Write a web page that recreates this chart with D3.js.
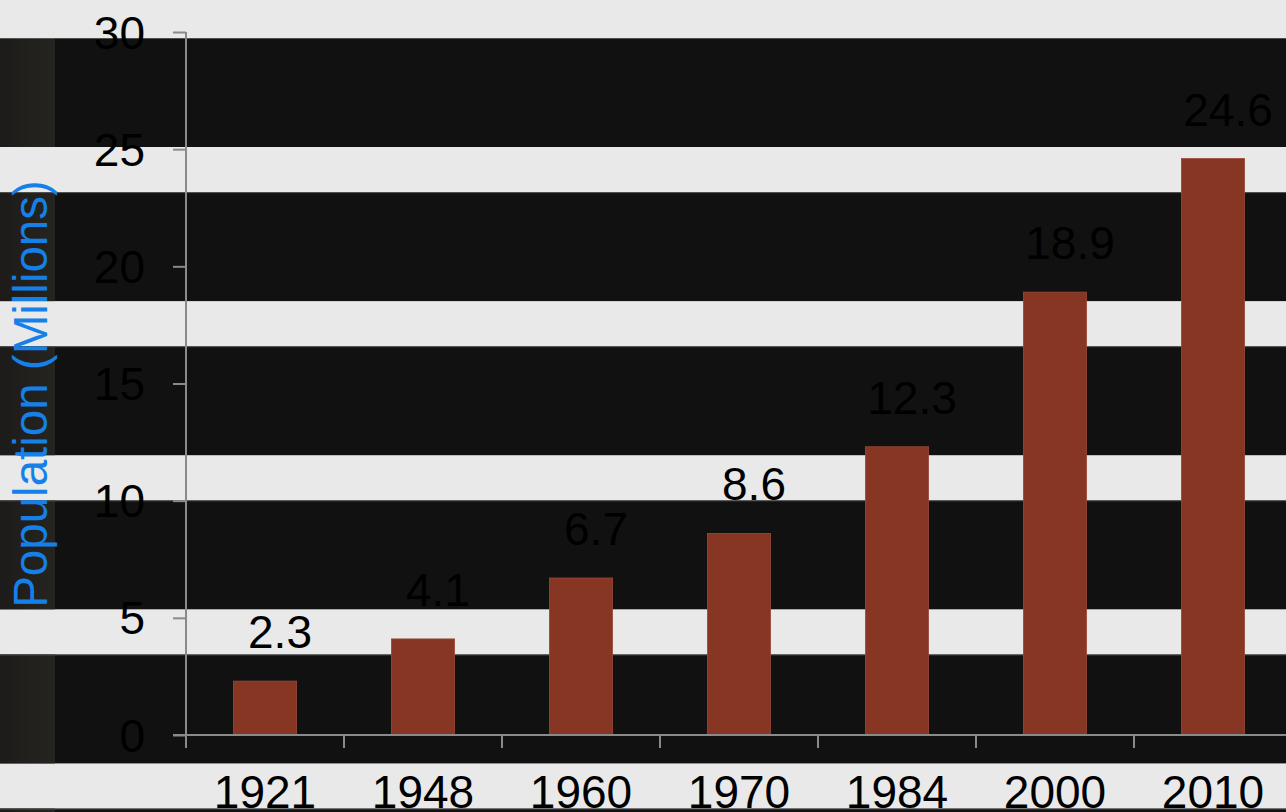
<!DOCTYPE html>
<html><head><meta charset="utf-8">
<script src="https://cdn.jsdelivr.net/npm/d3@7"></script>
<style>html,body{margin:0;padding:0;background:#e9e9e9;overflow:hidden}svg{display:block}</style>
</head><body>
<script>
const categories = ["1921","1948","1960","1970","1984","2000","2010"];
const values = [2.3, 4.1, 6.7, 8.6, 12.3, 18.9, 24.6];
const yTicks = [0,5,10,15,20,25,30];
const yTitle = "Population (Millions)";

const W = 1286, H = 812;
const svg = d3.select("body").append("svg").attr("width", W).attr("height", H);

// background: light with dark horizontal stripes
svg.append("rect").attr("width", W).attr("height", H).attr("fill", "#e9e9e9");
const defs = svg.append("defs");
const g1 = defs.append("linearGradient").attr("id","strip").attr("x1","0").attr("x2","1");
g1.append("stop").attr("offset","0").attr("stop-color","#1c1b19");
g1.append("stop").attr("offset","0.6").attr("stop-color","#22211e");
g1.append("stop").attr("offset","1").attr("stop-color","#252420");
const stripeTops = d3.range(6).map(i => 38 + i * 154.1);
stripeTops.forEach(t => {
  svg.append("rect").attr("x",0).attr("y",t).attr("width",W).attr("height",109).attr("fill","#111111");
  svg.append("rect").attr("x",0).attr("y",t).attr("width",55).attr("height",109).attr("fill","url(#strip)");
  svg.append("line").attr("x1",0).attr("x2",W).attr("y1",t+0.5).attr("y2",t+0.5)
    .attr("stroke","#6a6a6a").attr("stroke-width",1).attr("opacity",0.7);
});

const x0 = 186, y0 = 735, yTop = 32;
const x = d3.scaleBand().domain(categories).range([x0, x0 + 158 * categories.length]).paddingInner(0.6).paddingOuter(0.3);
const xEdges = d3.scaleBand().domain(categories).range([x0, x0 + 158 * categories.length]);
const y = d3.scaleLinear().domain([0, 30]).range([y0, yTop]);

const font = "'Liberation Sans', Arial, sans-serif";

// bars
svg.append("g").selectAll("rect").data(values).join("rect")
  .attr("x", (d,i) => x(categories[i]))
  .attr("y", d => y(d))
  .attr("width", x.bandwidth())
  .attr("height", d => y0 - y(d))
  .attr("fill", "#873624")
  .attr("stroke", "#9a4a36").attr("stroke-width", 0.8);

// y axis
const yAxis = svg.append("g").attr("transform", `translate(${x0},0)`)
  .call(d3.axisLeft(y).tickValues(yTicks).tickSize(13).tickPadding(28).tickSizeOuter(0));
yAxis.select(".domain").attr("stroke", "#8a8a8a").attr("stroke-width", 2)
  .attr("d", `M0,${yTop}V${y0+13}`);
yAxis.selectAll(".tick line").attr("stroke", "#8a8a8a").attr("stroke-width", 2);
yAxis.selectAll(".tick text").attr("font-family", font).attr("font-size", 46).attr("fill", "#000").attr("dy", "0.35em");

// x axis
const xAxis = svg.append("g").attr("transform", `translate(0,${y0})`);
xAxis.append("line").attr("x1", x0 - 13).attr("x2", W).attr("y1", 0).attr("y2", 0)
  .attr("stroke", "#8a8a8a").attr("stroke-width", 2);
xAxis.selectAll("line.tk").data(categories).join("line").attr("class","tk")
  .attr("x1", d => xEdges(d)).attr("x2", d => xEdges(d)).attr("y1", 0).attr("y2", 13)
  .attr("stroke", "#8a8a8a").attr("stroke-width", 2);
xAxis.selectAll("text").data(categories).join("text")
  .attr("x", d => xEdges(d) + xEdges.bandwidth()/2).attr("y", 73)
  .attr("text-anchor", "middle").attr("font-family", font).attr("font-size", 46).attr("fill", "#000")
  .text(d => d);

// data labels
svg.append("g").selectAll("text").data(values).join("text")
  .attr("x", (d,i) => x(categories[i]) + x.bandwidth()/2 + 15)
  .attr("y", d => y(d) - 33)
  .attr("text-anchor", "middle").attr("font-family", font).attr("font-size", 46).attr("fill", "#000")
  .text(d => d.toFixed(1));

// y title
svg.append("text").attr("transform", `translate(47,394) rotate(-90)`)
  .attr("text-anchor", "middle").attr("font-family", font).attr("font-size", 47.5).attr("fill", "#1580e8")
  .text(yTitle);
</script>
</body></html>
